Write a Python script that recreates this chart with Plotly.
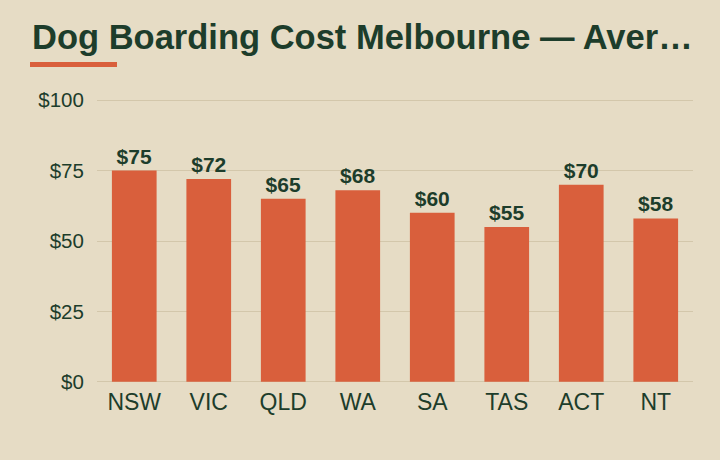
import plotly.graph_objects as go

states = ["NSW", "VIC", "QLD", "WA", "SA", "TAS", "ACT", "NT"]
avg_cost = [75, 72, 65, 68, 60, 55, 70, 58]
y_ticks = [0, 25, 50, 75, 100]
y_tick_labels = ["$0", "$25", "$50", "$75", "$100"]

BG = "#e6dcc5"
BAR = "#d95f3c"
INK = "#1d3d2b"
GRID = "#d3c7ab"

fig = go.Figure(go.Bar(
    x=states, y=avg_cost,
    marker=dict(color=BAR, line=dict(width=0)),
    text=["$%d" % v for v in avg_cost],
    textposition="outside",
    textfont=dict(family="Liberation Sans, Arial, sans-serif", size=21, color=INK, weight="bold"),
    cliponaxis=False,
    hoverinfo="skip",
))

fig.update_layout(
    width=720, height=460,
    paper_bgcolor=BG, plot_bgcolor=BG,
    margin=dict(l=97, r=27, t=99, b=77),
    bargap=0.4,
    showlegend=False,
    font=dict(family="Liberation Sans, Arial, sans-serif", color=INK, size=20),
)
fig.update_yaxes(
    range=[-0.4, 100.4], tickvals=y_ticks, ticktext=y_tick_labels,
    showgrid=True, gridcolor=GRID, gridwidth=1,
    zeroline=False, showline=False,
    ticks="outside", ticklen=8, tickcolor="rgba(0,0,0,0)",
    tickfont=dict(size=20.5, color=INK),
)
fig.update_xaxes(
    showgrid=False, showline=False, zeroline=False,
    ticks="", ticklabelstandoff=3,
    tickfont=dict(size=23, color=INK),
)

fig.add_annotation(
    xref="paper", yref="paper",
    x=(30 - 97) / 596, y=1 + (99 - 37) / 284,
    xanchor="left", yanchor="middle",
    text="<b>Dog Boarding Cost Melbourne — Aver…</b>",
    showarrow=False,
    font=dict(family="Liberation Sans, Arial, sans-serif", size=34.5, color=INK),
)
fig.add_shape(
    type="rect", xref="paper", yref="paper",
    x0=(30 - 97) / 596, x1=(117 - 97) / 596,
    y0=1 + (99 - 67) / 284, y1=1 + (99 - 62) / 284,
    fillcolor=BAR, line=dict(width=0),
)

fig.write_html("out.html")
